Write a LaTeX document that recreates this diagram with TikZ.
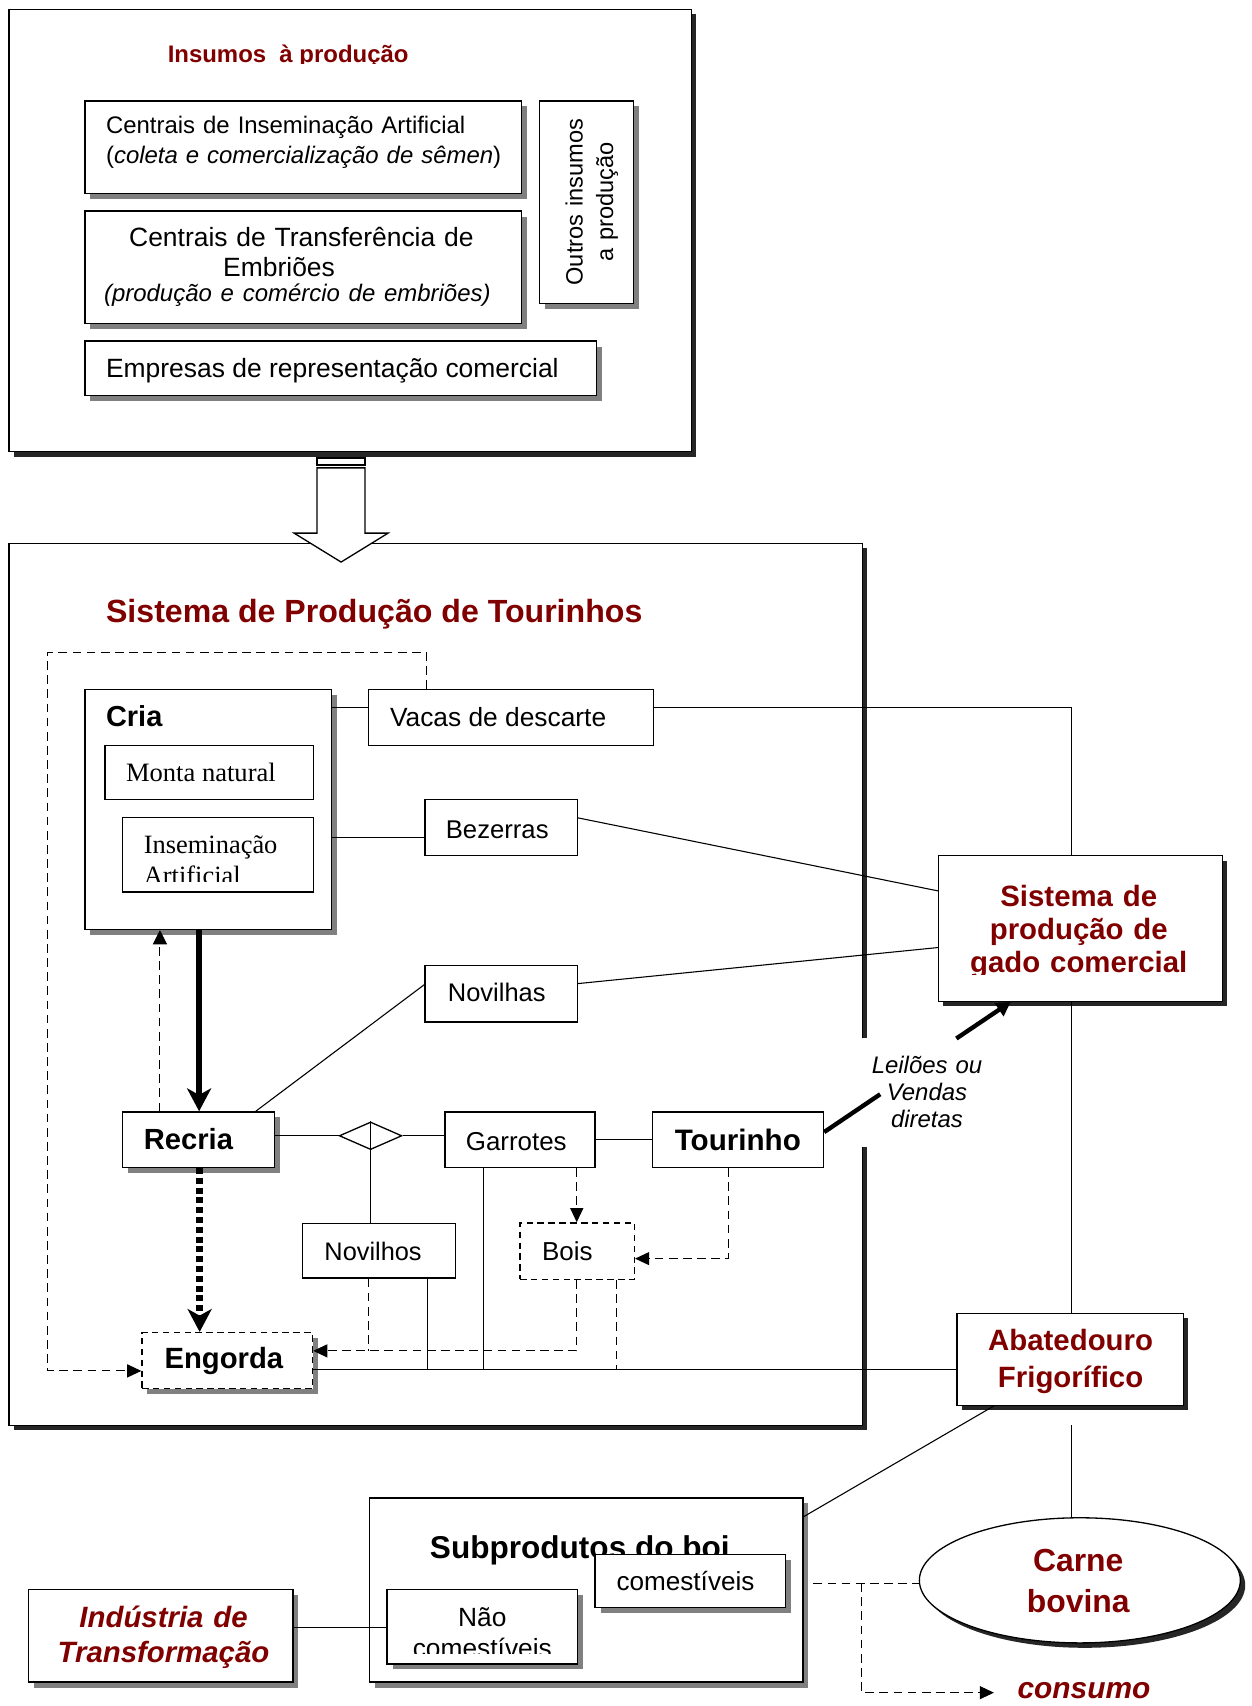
\documentclass[tikz,border=0pt]{standalone}
\usepackage{fontspec}
\setmainfont{Liberation Sans}
\newfontfamily\serifface{Liberation Serif}
\usetikzlibrary{shapes.geometric,arrows.meta,shadows}
\definecolor{tred}{RGB}{128,0,0}
\definecolor{shgray}{RGB}{128,128,128}
\definecolor{shdark}{RGB}{38,38,38}
\newcommand\fsz[2]{\fontsize{#1}{#2}\selectfont}

\begin{document}
\begin{tikzpicture}[x=1pt,y=-1pt,
  bx/.style={draw, line width=1.2pt, fill=white, inner sep=0pt},
  dbx/.style={bx, dash pattern=on 6pt off 4pt},
  shG/.style={drop shadow={shadow xshift=5pt,shadow yshift=-5pt,fill=shgray,opacity=1}},
  shD/.style={drop shadow={shadow xshift=4.5pt,shadow yshift=-4.5pt,fill=shdark,opacity=1}},
  txt/.style={inner sep=0pt},
  conn/.style={line width=1pt},
  dconn/.style={line width=1pt, dash pattern=on 8pt off 5pt},
  ahead/.style={-{Triangle[length=13pt,width=12pt]}},
  bighead/.style={-{Stealth[length=21pt,width=22pt,inset=6pt]}}
]
\useasboundingbox[fill=white] (0,0) rectangle (1150,1568);

% ---------- Insumos à produção ----------
\node[bx,shD,minimum width=627.1pt,minimum height=406.6pt] (ins) at (321.75,211.9) {};
\begin{scope}
  \clip (0,0) rectangle (640,58.3);
  \node[txt,anchor=base west,text=tred,font=\bfseries\fsz{22}{26}] (ins-t) at (154,57) {Insumos\ \ à produção};
\end{scope}

\node[bx,shG,minimum width=401.3pt,minimum height=84.9pt] (cia) at (278.65,135.25) {};
\node[txt,anchor=base west,text width=380pt,align=left,font=\fsz{22}{27.4}] (cia-t) at (97.3,122.6)
  {Centrais de Inseminação Artificial\\(\textit{coleta e comercialização de sêmen})};

\node[bx,shG,minimum width=401.3pt,minimum height=103.2pt] (cte) at (278.65,245.6) {};
\node[txt,anchor=base,text width=390pt,align=center,font=\fsz{24.3}{27.5}] (cte-t) at (277,226.8)
  {Centrais de Transferência de\\\hspace*{-41pt}Embriões\\[-4.5pt]\hspace*{-7.4pt}{\fsz{22}{24}\itshape(produção e comércio de embriões)}};

\node[bx,shG,minimum width=86.2pt,minimum height=186pt] (out) at (538.9,185.8) {};
\node[txt,rotate=90,anchor=base,text width=180pt,align=center,font=\fsz{21.7}{28}] (out-t) at (535.6,185.8)
  {Outros insumos\\a produção};

\node[bx,shG,minimum width=470pt,minimum height=50.2pt] (emp) at (313,338.6) {};
\node[txt,anchor=base west,font=\fsz{24.3}{28}] (emp-t) at (97.3,347.2) {Empresas de representação comercial};

% ---------- Sistema de Produção de Tourinhos ----------
\node[bx,shD,minimum width=784.3pt,minimum height=810.5pt] (prod) at (400.35,904.75) {};

% hollow arrow between the two blocks
\draw[line width=1.2pt,fill=white] (291.4,421) rectangle (335.5,427.5);
\draw[line width=1.2pt,fill=white] (291.4,430) -- (291.4,490) -- (270.3,490) -- (313.5,516.6)
  -- (356.7,490) -- (335.5,490) -- (335.5,430) -- cycle;

\node[txt,anchor=base west,text=tred,font=\bfseries\fsz{29.5}{34}] (prod-t) at (97.3,572) {Sistema de Produção de Tourinhos};

\node[bx,minimum width=261.4pt,minimum height=51.5pt] (vacas) at (469.7,659.45) {};
\node[txt,anchor=base west,font=\fsz{24.2}{28}] (vacas-t) at (358.3,667.4) {Vacas de descarte};

\node[bx,shG,minimum width=226.5pt,minimum height=220.6pt] (cria) at (191.25,744) {};
\node[txt,anchor=base west,font=\bfseries\fsz{26.6}{30}] (cria-t) at (97.3,668) {Cria};

\node[bx,minimum width=191.5pt,minimum height=49.9pt] (monta) at (192.25,709.85) {};
\node[txt,anchor=base west,font=\serifface\fsz{24.4}{28}] (monta-t) at (115.7,718.6) {Monta natural};

\node[bx,minimum width=175.1pt,minimum height=68.3pt] (insem) at (200.45,785.55) {};
\begin{scope}
  \clip (112,751) rectangle (289,810.5);
  \node[txt,anchor=base west,text width=150pt,align=left,font=\serifface\fsz{24.3}{28}] (insem-t) at (132,784.5) {Inseminação\\Artificial};
\end{scope}

\node[bx,minimum width=139.9pt,minimum height=51.8pt] (bez) at (460.65,760.7) {};
\node[txt,anchor=base west,font=\fsz{23.6}{28}] (bez-t) at (409.6,770.7) {Bezerras};

\node[bx,minimum width=140pt,minimum height=51.5pt] (novas) at (460.7,913.45) {};
\node[txt,anchor=base west,font=\fsz{23.4}{28}] (novas-t) at (411.5,920.8) {Novilhas};

\node[bx,shG,minimum width=139.5pt,minimum height=51pt] (recria) at (182.65,1047.5) {};
\node[txt,anchor=base west,font=\bfseries\fsz{26.8}{30}] (recria-t) at (132,1056.6) {Recria};

\node[bx,shape=diamond,minimum width=57.5pt,minimum height=25.4pt] (dia) at (340.6,1043.9) {};

\node[bx,minimum width=137.9pt,minimum height=51pt] (garr) at (478.05,1047.5) {};
\node[txt,anchor=base west,font=\fsz{23.8}{28}] (garr-t) at (428,1057.2) {Garrotes};

\node[bx,minimum width=156.9pt,minimum height=51pt] (tour) at (678.45,1047.5) {};
\node[txt,anchor=base west,font=\bfseries\fsz{27.2}{30}] (tour-t) at (620,1057.2) {Tourinho};

\node[bx,minimum width=140.4pt,minimum height=50pt] (novos) at (348.4,1149.6) {};
\node[txt,anchor=base west,font=\fsz{23.3}{28}] (novos-t) at (298,1158.3) {Novilhos};

\node[dbx,minimum width=105.1pt,minimum height=51.8pt] (bois) at (530.55,1149.9) {};
\node[txt,anchor=base west,font=\fsz{23.9}{28}] (bois-t) at (498,1158.3) {Bois};

\node[dbx,shG,minimum width=156.8pt,minimum height=51.5pt] (eng) at (208.9,1250.55) {};
\node[txt,anchor=base west,font=\bfseries\fsz{26.9}{30}] (eng-t) at (151,1257.9) {Engorda};

% ---------- outside blocks ----------
\node[bx,shD,minimum width=260.8pt,minimum height=133.6pt] (gado) at (993,853.4) {};
\begin{scope}
  \clip (850,780) rectangle (1130,895.5);
  \node[txt,anchor=base,text width=250pt,align=center,text=tred,font=\bfseries\fsz{27}{30.2}] (gado-t) at (991.5,833.5)
    {Sistema de\\produção de\\gado comercial};
\end{scope}

\node[bx,shD,minimum width=208.1pt,minimum height=84.6pt] (abat) at (983.55,1249.3) {};
\node[txt,anchor=base,text width=200pt,align=center,text=tred,font=\bfseries\fsz{27}{34.4}] (abat-t) at (984,1241)
  {Abatedouro\\Frigorífico};

\node[bx,shD,shape=ellipse,minimum width=295pt,minimum height=115pt] (carne) at (992.5,1452.5) {};
\node[txt,anchor=base,text width=200pt,align=center,text=tred,font=\bfseries\fsz{29.3}{36.8}] (carne-t) at (991,1444.8)
  {Carne\\bovina};

\node[bx,shG,minimum width=398.6pt,minimum height=169.2pt] (sub) at (538.7,1461.4) {};
\node[txt,anchor=base west,font=\bfseries\fsz{29}{34}] (sub-t) at (395,1432) {Subprodutos do boi};

\node[bx,shG,minimum width=175pt,minimum height=49pt] (com) at (634.5,1453.1) {};
\node[txt,anchor=base west,font=\fsz{24}{28}] (com-t) at (566.5,1461.7) {comestíveis};

\node[bx,shG,minimum width=175pt,minimum height=68.4pt] (nao) at (443.3,1495.2) {};
\begin{scope}
  \clip (355,1461) rectangle (531,1520);
  \node[txt,anchor=base,text width=170pt,align=center,font=\fsz{24.2}{28.5}] (nao-t) at (443.3,1494.8) {Não\\comestíveis};
\end{scope}

\node[bx,shG,minimum width=242.8pt,minimum height=85pt] (ind) at (147.9,1503.5) {};
\node[txt,anchor=base,text width=240pt,align=center,text=tred,font=\bfseries\itshape\fsz{27}{32.2}] (ind-t) at (150.3,1495.4)
  {Indústria de\\Transformação};

\node[txt,anchor=base west,text=tred,font=\bfseries\itshape\fsz{27.5}{30}] (cons) at (935,1561.5) {consumo};

% sales label; its white ground interrupts the frame on the right
\node[anchor=base,fill=white,inner xsep=0pt,inner ysep=17pt,text width=132pt,align=center,font=\itshape\fsz{22}{25}] (lbl) at (852,986.7)
  {Leilões ou\\Vendas\\diretas};
\coordinate (lblin) at (809,1005.7);
\coordinate (lblout) at (879,954.5);

% ---------- connectors ----------
% recycling of cull cows back to fattening
\draw[dconn,ahead] (vacas.north -| 392,0) |- (43.9,599.4) |- (eng.west |- 0,1260);

\draw[conn] (cria.east |- 0,650.3) -- (vacas.west |- 0,650.3);
\draw[conn] (vacas.east |- 0,650.3) -| (gado.north -| 984.4,0);
\draw[conn] (cria.east |- 0,769.8) -- (bez.west |- 0,769.8);
\draw[conn] (bez.east |- 0,751.7) -- (gado.west |- 0,818.8);
\draw[conn] (novas.east |- 0,904) -- (gado.west |- 0,870.9);
\draw[conn] (novas.west |- 0,904.9) -- (recria.north -| 235,0);
\draw[conn] (gado.south -| 984.4,0) -- (abat.north -| 984.4,0);

\draw[line width=6pt,bighead] (cria.south -| 183,0) -- (recria.north -| 183,0);
\draw[dconn,-{Triangle[length=13pt,width=13pt]}] (recria.north -| 147,0) -- (cria.south -| 147,0);
\draw[line width=6pt,dash pattern=on 5.5pt off 3.5pt,bighead] (recria.south -| 183.5,0) -- (eng.north -| 183.5,0);

\draw[conn] (recria.east |- dia.west) -- (dia.west);
\draw[conn] (dia.east) -- (garr.west |- dia.east);
\draw[conn] (dia.north) -- (novos.north -| dia.north);
\draw[conn] (garr) -- (tour);

\coordinate (m1) at (393.2,1258.8);
\coordinate (m2) at (444.3,1258.8);
\coordinate (m3) at (566.3,1258.8);
\coordinate (d1) at (338.6,1241.6);
\draw[conn] (eng.east |- 0,1258.8) -- (abat.west |- 0,1258.8);
\draw[conn] (garr.south -| m2) -- (m2);
\draw[conn] (novos.south -| m1) -- (m1);
\draw[dconn] (novos.south -| d1) -- (d1);
\draw[dconn,ahead] (garr.south -| 530.1,0) -- (bois.north -| 530.1,0);
\draw[dconn,ahead] (tour.south -| 669.6,0) |- (bois.east |- 0,1156.8);
\draw[dconn,ahead] (bois.south -| 530.1,0) |- (eng.east |- d1);
\draw[dconn] (bois.south -| m3) -- (m3);

\draw[line width=4pt] ([yshift=7pt]tour.east) -- (lblin);
\draw[line width=4pt,-{Triangle[length=13pt,width=14pt]}] (lblout) -- ([xshift=-64pt]gado.south);

\draw[conn] (abat.south -| 913.5,0) -- (sub.east |- 0,1394);
\draw[conn] (984.4,1310) -- (carne.north -| 984.4,0);
\draw[conn] (ind.east |- 0,1496) -- (nao.west |- 0,1496);

\coordinate (br) at (792,1455);
\draw[dconn] (sub.east) ++(9,-6.4) -- (carne.west |- 0,1455);
\draw[dconn,ahead] (br) |- ([xshift=-21.5pt,yshift=-1.5pt]cons.west);
\end{tikzpicture}
\end{document}
